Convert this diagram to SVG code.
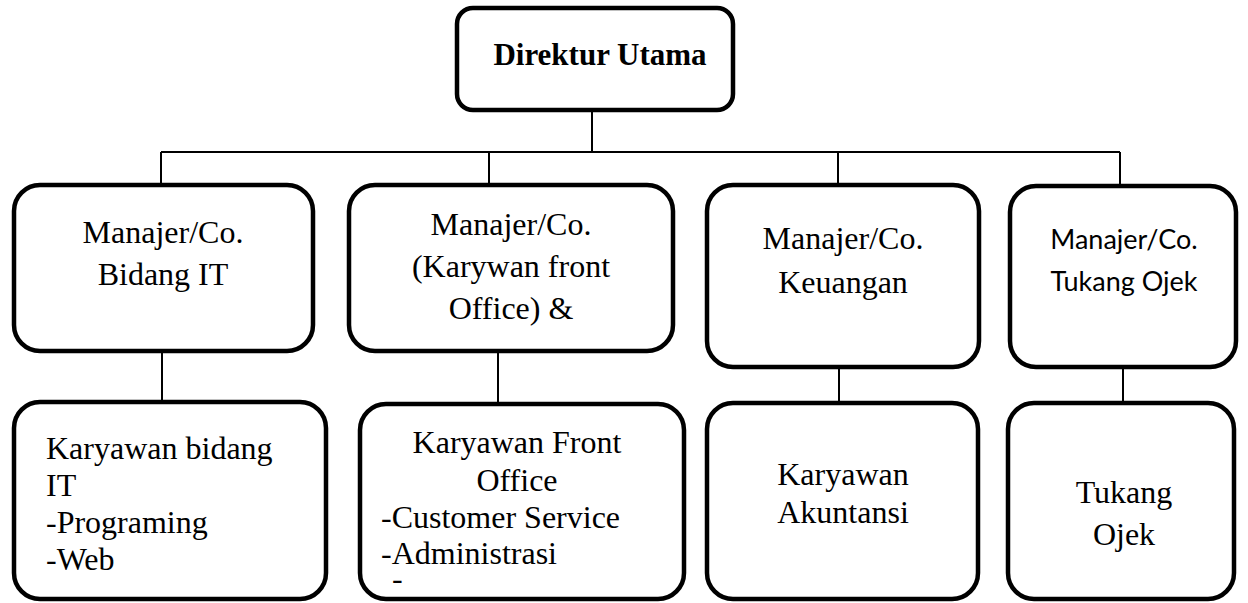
<svg xmlns="http://www.w3.org/2000/svg" width="1248" height="603" viewBox="0 0 1248 603">
<style>
.box{fill:#fff;stroke:#000;stroke-width:4.5}
.ln{fill:none;stroke:#000;stroke-width:2}
.t{font-family:"Liberation Serif","Times New Roman",serif;font-size:32px;fill:#000}
.c{text-anchor:middle}
.b{font-weight:bold;font-size:31px}
.s{font-family:Lato,"Liberation Sans",sans-serif;font-size:27px;fill:#000;text-anchor:middle}
</style>
<rect width="1248" height="603" fill="#fff"/>
<g id="connectors">
<path class="ln" d="M592,112 V152 M161,152 H1120 M161,152 V184 M489,152 V184 M838,152 V184 M1120,152 V185"/>
<path class="ln" d="M162,352 V401 M498,352 V403 M839,368 V402 M1123,368 V402"/>
</g>
<g id="direktur">
<rect class="box" x="457" y="8" width="276" height="102" rx="16"/>
<text class="t c b" x="600" y="65">Direktur Utama</text>
</g>
<g id="mgr-it">
<rect class="box" x="14" y="185" width="299" height="166" rx="26"/>
<text class="t c" x="163" y="243">Manajer/Co.</text>
<text class="t c" x="163" y="285">Bidang IT</text>
</g>
<g id="mgr-fo">
<rect class="box" x="349" y="185" width="324" height="166" rx="26"/>
<text class="t c" x="511" y="235">Manajer/Co.</text>
<text class="t c" x="511" y="277">(Karywan front</text>
<text class="t c" x="511" y="319">Office) &amp;</text>
</g>
<g id="mgr-keu">
<rect class="box" x="707" y="185" width="272" height="182" rx="26"/>
<text class="t c" x="843" y="249">Manajer/Co.</text>
<text class="t c" x="843" y="293">Keuangan</text>
</g>
<g id="mgr-ojek">
<rect class="box" x="1010" y="186" width="226" height="181" rx="26"/>
<text class="s" x="1124" y="249">Manajer/Co.</text>
<text class="s" x="1124" y="291">Tukang Ojek</text>
</g>
<g id="kar-it">
<rect class="box" x="14" y="402" width="312" height="197" rx="26"/>
<text class="t" x="46" y="459">Karyawan bidang</text>
<text class="t" x="46" y="496">IT</text>
<text class="t" x="46" y="533">-Programing</text>
<text class="t" x="46" y="570">-Web</text>
</g>
<g id="kar-fo">
<rect class="box" x="360" y="404" width="324" height="195" rx="26"/>
<text class="t c" x="517" y="453">Karyawan Front</text>
<text class="t c" x="517" y="491">Office</text>
<text class="t" x="381" y="528">-Customer Service</text>
<text class="t" x="381" y="564">-Administrasi</text>
<text class="t" x="392" y="589">-</text>
</g>
<g id="kar-akt">
<rect class="box" x="707" y="403" width="271" height="196" rx="26"/>
<text class="t c" x="843" y="485">Karyawan</text>
<text class="t c" x="843" y="523">Akuntansi</text>
</g>
<g id="tukang-ojek">
<rect class="box" x="1008" y="403" width="226" height="196" rx="26"/>
<text class="t c" x="1124" y="503">Tukang</text>
<text class="t c" x="1124" y="545">Ojek</text>
</g>
</svg>
